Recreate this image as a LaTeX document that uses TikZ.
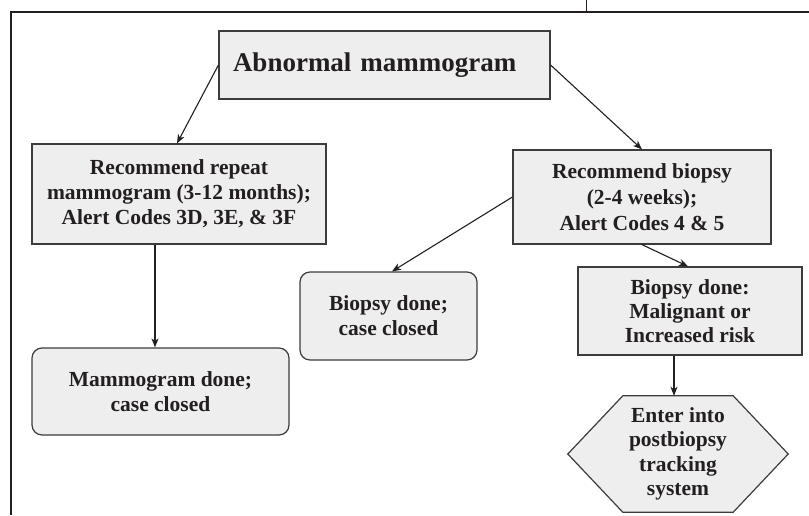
\documentclass[tikz,border=0pt]{standalone}
\usepackage{fontspec}
\setmainfont{Liberation Serif}
\usetikzlibrary{arrows.meta,calc,backgrounds}
\definecolor{boxfill}{RGB}{238,238,238}
\definecolor{ink}{RGB}{35,31,32}
\definecolor{edge}{RGB}{60,60,60}
\begin{document}
\begin{tikzpicture}[x=1pt,y=-1pt,
  every node/.style={text=ink, font=\bfseries\fontsize{21.5}{25}\selectfont, align=center, inner sep=0pt},
  box/.style={draw=edge, line width=1.2pt, fill=boxfill},
  rbox/.style={box, rounded corners=10pt},
  arr/.style={draw=ink, line width=1.1pt, -{Stealth[length=9pt,width=7pt,inset=2.5pt]}}]
\useasboundingbox (0,0) rectangle (809,515);
% frame
\draw[ink, line width=2pt] (11,515) -- (11,12) -- (809,12);
\draw[ink, line width=1pt] (586,0) -- (586,12);
% nodes
\node[box, minimum width=331pt, minimum height=68pt, text width=303pt, align=left, inner xsep=14pt,
      font=\bfseries\fontsize{27}{30}\selectfont] (top) at (384.5,65) {Abnormal mammogram};
\node[box, minimum width=294pt, minimum height=100pt] (rep) at (179,194)
  {Recommend repeat\\mammogram (3-12 months);\\Alert Codes 3D, 3E, \& 3F};
\node[rbox, minimum width=257pt, minimum height=87pt] (mdone) at (160.5,391.5)
  {Mammogram done;\\case closed};
\node[box, minimum width=258pt, minimum height=94pt, font=\bfseries\fontsize{21.5}{26}\selectfont] (biop) at (642,197)
  {Recommend biopsy\\(2-4 weeks);\\Alert Codes 4 \& 5};
\node[rbox, minimum width=177pt, minimum height=88pt] (bdone) at (388.5,316)
  {Biopsy done;\\case closed};
\node[box, minimum width=224pt, minimum height=88pt, font=\bfseries\fontsize{21.5}{24}\selectfont] (mal) at (690,311)
  {Biopsy done:\\Malignant or\\Increased risk};
\node[minimum width=220pt, minimum height=116pt, font=\bfseries\fontsize{21.5}{24.5}\selectfont] (hex) at (678,454)
  {Enter into\\postbiopsy\\tracking\\system};
\begin{scope}[on background layer]
\draw[box] ($(hex.north west)+(55,0)$) -- ($(hex.north east)+(-55,0)$) -- (hex.east)
  -- ($(hex.south east)+(-55,0)$) -- ($(hex.south west)+(55,0)$) -- (hex.west) -- cycle;
\end{scope}
% connectors
\draw[arr] (top.west) -- ([xshift=-2pt]rep.north);
\draw[arr] (top.east) -- (biop.north);
\draw[arr] ([xshift=-24pt]rep.south) -- ([xshift=-24pt]rep.south |- mdone.north);
\draw[arr] (biop.west) -- ([xshift=3.5pt]bdone.north);
\draw[arr] (biop.south) -- ([xshift=-2pt]mal.north);
\draw[arr] ([xshift=-16pt]mal.south) -- ([xshift=-16pt]mal.south |- hex.north);
\end{tikzpicture}
\end{document}
